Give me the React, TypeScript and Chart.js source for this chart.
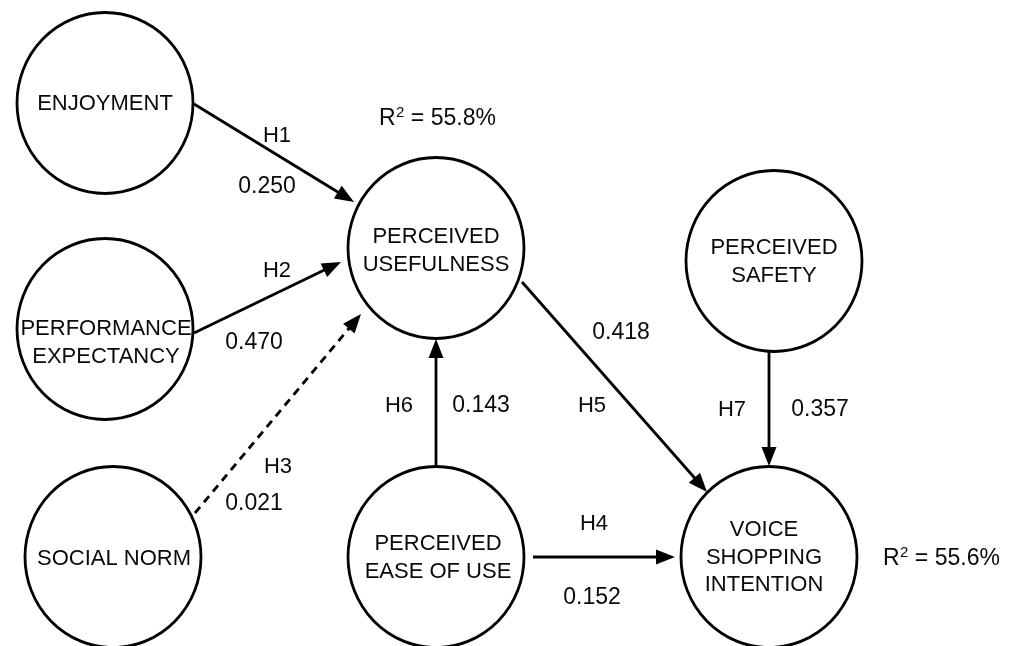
import React, { useEffect, useRef } from "react";
import { Chart, registerables } from "chart.js";

Chart.register(...registerables);

const W = 1013;
const H = 646;

// Constructs (circles)
const nodeLabels: string[][] = [
  ["ENJOYMENT"],
  ["PERFORMANCE", "EXPECTANCY"],
  ["SOCIAL NORM"],
  ["PERCEIVED", "USEFULNESS"],
  ["PERCEIVED", "SAFETY"],
  ["PERCEIVED", "EASE OF USE"],
  ["VOICE", "SHOPPING", "INTENTION"],
];
const nodeX = [105, 105, 113, 436, 774, 436, 769];
const nodeY = [103, 329, 557, 248, 261, 557, 557];
const labelX = [105, 106, 114, 436, 774, 438, 764];
const labelY = [102, 341, 557, 249, 260, 556, 556];

// Paths (hypotheses)
const hypLabels = ["H1", "H2", "H3", "H4", "H5", "H6", "H7"];
const pathCoefs = ["0.250", "0.470", "0.021", "0.152", "0.418", "0.143", "0.357"];
const pathStartX = [194, 194, 195, 533, 522, 436, 769];
const pathStartY = [104, 333, 513, 557, 282, 467, 352];
const pathEndX = [354, 341, 361, 675, 707, 436, 769];
const pathEndY = [202, 262, 314, 557, 492, 339, 466];
const pathDashed = [false, false, true, false, false, false, false];
const hypX = [277, 277, 278, 594, 592, 399, 732];
const hypY = [134, 269, 465, 522, 404, 404, 408];
const coefX = [267, 254, 254, 592, 621, 481, 820];
const coefY = [185, 341, 502, 596, 331, 404, 408];

// R-squared annotations
const r2Values = ["55.8%", "55.6%"];
const r2X = [379, 883];
const r2Y = [117, 557];

const RX = 88;
const RY = 90.5;
const ARROW_LEN = 19;
const ARROW_HALF = 7.5;
const STROKE = 2.8;
const FONT = '"Liberation Sans", Arial, Helvetica, sans-serif';
const INK = "#0a0a0a";

function shortenedEnd(i: number) {
  const dx = pathEndX[i] - pathStartX[i];
  const dy = pathEndY[i] - pathStartY[i];
  const len = Math.hypot(dx, dy);
  const k = (ARROW_LEN * 0.7) / len;
  return { x: pathEndX[i] - dx * k, y: pathEndY[i] - dy * k };
}

const diagramPlugin = {
  id: "pathDiagram",
  beforeDatasetsDraw(chart: any) {
    const ctx = chart.ctx;
    const xs = chart.scales.x;
    const ys = chart.scales.y;
    ctx.save();
    for (let i = 0; i < nodeX.length; i++) {
      const cx = xs.getPixelForValue(nodeX[i]);
      const cy = ys.getPixelForValue(nodeY[i]);
      const rx = Math.abs(xs.getPixelForValue(nodeX[i] + RX) - cx);
      const ry = Math.abs(ys.getPixelForValue(nodeY[i] + RY) - cy);
      ctx.beginPath();
      ctx.ellipse(cx, cy, rx, ry, 0, 0, Math.PI * 2);
      ctx.fillStyle = "#ffffff";
      ctx.fill();
      ctx.lineWidth = STROKE;
      ctx.strokeStyle = "#000";
      ctx.stroke();
    }
    ctx.restore();
  },
  afterDatasetsDraw(chart: any) {
    const ctx = chart.ctx;
    const xs = chart.scales.x;
    const ys = chart.scales.y;
    ctx.save();
    // arrowheads
    ctx.fillStyle = "#000";
    for (let i = 0; i < pathStartX.length; i++) {
      const sx = xs.getPixelForValue(pathStartX[i]);
      const sy = ys.getPixelForValue(pathStartY[i]);
      const ex = xs.getPixelForValue(pathEndX[i]);
      const ey = ys.getPixelForValue(pathEndY[i]);
      const a = Math.atan2(ey - sy, ex - sx);
      const bx = ex - Math.cos(a) * ARROW_LEN;
      const by = ey - Math.sin(a) * ARROW_LEN;
      const px = -Math.sin(a) * ARROW_HALF;
      const py = Math.cos(a) * ARROW_HALF;
      ctx.beginPath();
      ctx.moveTo(ex, ey);
      ctx.lineTo(bx + px, by + py);
      ctx.lineTo(bx - px, by - py);
      ctx.closePath();
      ctx.fill();
    }
    // text
    ctx.fillStyle = INK;
    ctx.textAlign = "center";
    ctx.textBaseline = "alphabetic";
    const nodeSize = 22;
    ctx.font = `${nodeSize}px ${FONT}`;
    for (let i = 0; i < nodeLabels.length; i++) {
      const lines = nodeLabels[i];
      const lh = 27.5;
      const cx = xs.getPixelForValue(labelX[i]);
      const cy = ys.getPixelForValue(labelY[i]);
      const top = cy - ((lines.length - 1) * lh) / 2;
      lines.forEach((t, j) => {
        ctx.fillText(t, cx, top + j * lh + nodeSize * 0.358);
      });
    }
    ctx.font = `22px ${FONT}`;
    for (let i = 0; i < hypLabels.length; i++) {
      ctx.fillText(hypLabels[i], xs.getPixelForValue(hypX[i]), ys.getPixelForValue(hypY[i]) + 22 * 0.358);
    }
    ctx.font = `23px ${FONT}`;
    for (let i = 0; i < pathCoefs.length; i++) {
      ctx.fillText(pathCoefs[i], xs.getPixelForValue(coefX[i]), ys.getPixelForValue(coefY[i]) + 23 * 0.358);
    }
    // R^2
    ctx.textAlign = "left";
    for (let i = 0; i < r2Values.length; i++) {
      let x = xs.getPixelForValue(r2X[i]);
      const base = ys.getPixelForValue(r2Y[i]) + 23 * 0.358;
      ctx.font = `23px ${FONT}`;
      ctx.fillText("R", x, base);
      x += ctx.measureText("R").width;
      ctx.font = `15px ${FONT}`;
      ctx.fillText("2", x + 0.5, base - 8);
      x += ctx.measureText("2").width + 0.5;
      ctx.font = `23px ${FONT}`;
      ctx.fillText(" = " + r2Values[i], x, base);
    }
    ctx.restore();
  },
};

export default function App() {
  const ref = useRef<HTMLCanvasElement | null>(null);
  useEffect(() => {
    if (!ref.current) return;
    const datasets = pathStartX.map((_, i) => {
      const end = shortenedEnd(i);
      return {
        type: "line" as const,
        label: hypLabels[i],
        data: [
          { x: pathStartX[i], y: pathStartY[i] },
          { x: end.x, y: end.y },
        ],
        borderColor: "#000",
        borderWidth: STROKE,
        borderDash: pathDashed[i] ? [8, 6] : [],
        pointRadius: 0,
        showLine: true,
        fill: false,
        tension: 0,
      };
    });
    const chart = new Chart(ref.current, {
      type: "scatter",
      data: { datasets: datasets as any },
      options: {
        animation: false,
        responsive: false,
        devicePixelRatio: 1,
        layout: { padding: 0 },
        plugins: { legend: { display: false }, tooltip: { enabled: false } },
        events: [],
        scales: {
          x: { type: "linear", min: 0, max: W, display: false },
          y: { type: "linear", min: 0, max: H, reverse: true, display: false },
        },
      },
      plugins: [diagramPlugin],
    });
    return () => chart.destroy();
  }, []);
  return (
    <div style={{ position: "absolute", left: 0, top: 0, width: W, height: H, background: "#fff" }}>
      <canvas ref={ref} width={W} height={H} style={{ display: "block", width: W, height: H }} />
    </div>
  );
}
